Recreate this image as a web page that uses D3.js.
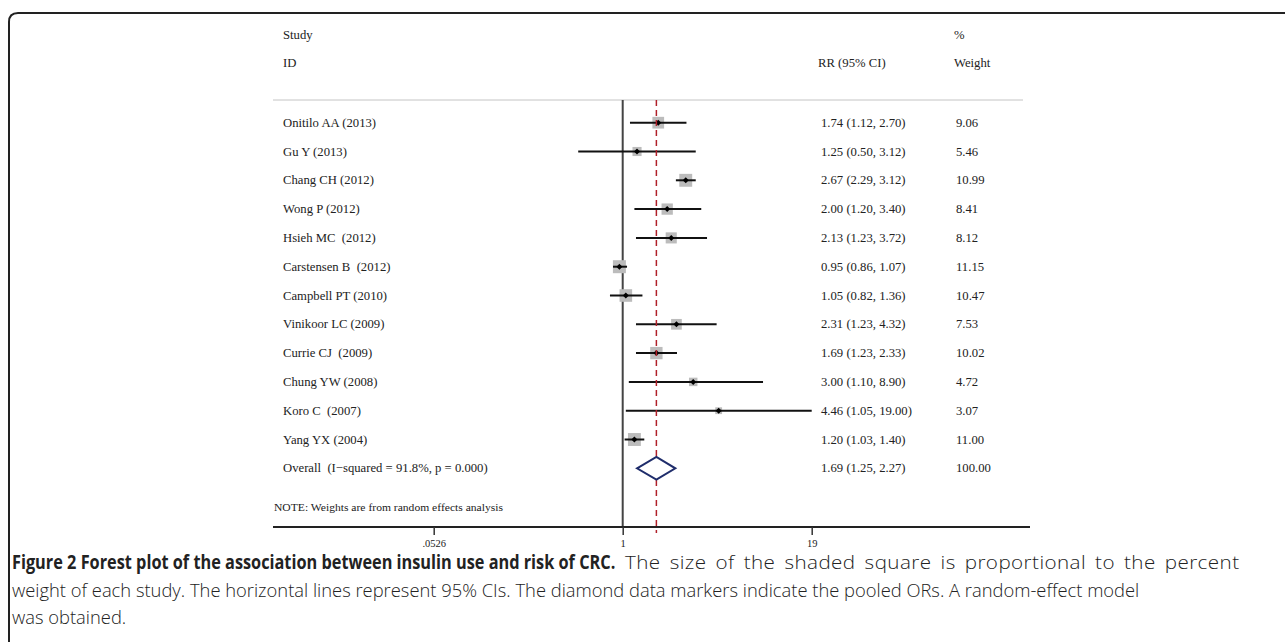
<!DOCTYPE html>
<html><head><meta charset="utf-8">
<script src="https://cdn.jsdelivr.net/npm/d3@7"></script>
<style>html,body{margin:0;padding:0;background:#fff;}svg{display:block;}</style>
</head><body>
<svg id="chart" width="1285" height="642"></svg>
<script>
// ---- data ----
const studies = ["Onitilo AA (2013)","Gu Y (2013)","Chang CH (2012)","Wong P (2012)","Hsieh MC  (2012)","Carstensen B  (2012)","Campbell PT (2010)","Vinikoor LC (2009)","Currie CJ  (2009)","Chung YW (2008)","Koro C  (2007)","Yang YX (2004)"];
const rr      = [1.74, 1.25, 2.67, 2.00, 2.13, 0.95, 1.05, 2.31, 1.69, 3.00, 4.46, 1.20];
const lower   = [1.12, 0.50, 2.29, 1.20, 1.23, 0.86, 0.82, 1.23, 1.23, 1.10, 1.05, 1.03];
const upper   = [2.70, 3.12, 3.12, 3.40, 3.72, 1.07, 1.36, 4.32, 2.33, 8.90, 19.00, 1.40];
const weights = [9.06, 5.46, 10.99, 8.41, 8.12, 11.15, 10.47, 7.53, 10.02, 4.72, 3.07, 11.00];
const overallLabel = "Overall  (I\u2212squared = 91.8%, p = 0.000)";
const overall = {rr: 1.69, lo: 1.25, hi: 2.27, w: 100.00};
const tickValues = [1/19, 1, 19];
const tickLabels = [".0526", "1", "19"];
const noteText = "NOTE: Weights are from random effects analysis";
const captionBold = "Figure 2 Forest plot of the association between insulin use and risk of CRC.";
const captionLines = [
  "The size of the shaded square is proportional to the percent",
  "weight of each study. The horizontal lines represent 95% CIs. The diamond data markers indicate the pooled ORs. A random-effect model",
  "was obtained."
];

// ---- layout ----
const svg = d3.select("#chart");
const serif = "'Liberation Serif','Times New Roman',serif";
const txt = "#222";

// frame (top + left, rounded corner)
svg.append("path")
  .attr("d", "M9,642 L9,22 Q9,13 18,13 L1285,13")
  .attr("fill", "none").attr("stroke", "#222").attr("stroke-width", 2);

const x = d3.scaleLog().domain([1/19, 19]).range([433.7, 811.7]);
const rowY = d3.scaleLinear().domain([0, 12]).range([122.7, 468.3]);
const sq = d3.scaleSqrt().domain([0, 11.15]).range([0, 13]);

const colLabel = 283, colRR = 821, colW = 956;
const fs = 12.7;

// header
const head = svg.append("g").attr("font-family", serif).attr("font-size", fs).attr("fill", txt);
head.append("text").attr("x", colLabel).attr("y", 39).text("Study");
head.append("text").attr("x", colLabel).attr("y", 67).text("ID");
head.append("text").attr("x", 818).attr("y", 67).text("RR (95% CI)");
head.append("text").attr("x", 954).attr("y", 39).text("%");
head.append("text").attr("x", 954).attr("y", 67).text("Weight");

svg.append("line").attr("x1", 273).attr("x2", 1023).attr("y1", 100).attr("y2", 100)
  .attr("stroke", "#c4c4c4").attr("stroke-width", 1);

// null line
svg.append("line").attr("x1", x(1)).attr("x2", x(1)).attr("y1", 100).attr("y2", 527)
  .attr("stroke", "#444").attr("stroke-width", 2);

// axis
const axisY = 527;
svg.append("line").attr("x1", 273).attr("x2", 1030).attr("y1", axisY).attr("y2", axisY)
  .attr("stroke", "#222").attr("stroke-width", 1.8);
const axis = d3.axisBottom(x).tickValues(tickValues).tickSize(8)
  .tickFormat((d, i) => tickLabels[i]);
const ag = svg.append("g").attr("transform", `translate(0,${axisY})`).call(axis);
ag.select(".domain").remove();
ag.selectAll(".tick line").attr("stroke", "#333").attr("stroke-width", 1.5);
ag.selectAll(".tick text").attr("font-family", serif).attr("font-size", 10.5).attr("fill", txt).attr("dy", "0.9em");

// rows
const data = studies.map((s, i) => ({s, rr: rr[i], lo: lower[i], hi: upper[i], w: weights[i], i}));
const rows = svg.append("g");
data.forEach(d => {
  const y = rowY(d.i);
  const side = sq(d.w);
  rows.append("rect").attr("x", x(d.rr) - side/2).attr("y", y - side/2)
    .attr("width", side).attr("height", side).attr("fill", "#bcbcbc");
  rows.append("line").attr("x1", x(d.lo)).attr("x2", x(d.hi)).attr("y1", y).attr("y2", y)
    .attr("stroke", "#111").attr("stroke-width", 2);
  const px = x(d.rr), r = 3;
  rows.append("path").attr("d", `M${px-r},${y} L${px},${y-r} L${px+r},${y} L${px},${y+r} Z`).attr("fill", "#000");
  const t = rows.append("g").attr("font-family", serif).attr("font-size", fs).attr("fill", txt);
  t.append("text").attr("x", colLabel).attr("y", y + 4).attr("xml:space", "preserve").text(d.s);
  t.append("text").attr("x", colRR).attr("y", y + 4).text(`${d.rr.toFixed(2)} (${d.lo.toFixed(2)}, ${d.hi.toFixed(2)})`);
  t.append("text").attr("x", colW).attr("y", y + 4).text(d.w.toFixed(2));
});

// red dashed overall line
svg.append("line").attr("x1", x(overall.rr)).attr("x2", x(overall.rr)).attr("y1", 100).attr("y2", 533)
  .attr("stroke", "#b0202a").attr("stroke-width", 1.5).attr("stroke-dasharray", "6,4");

// overall diamond
const oy = rowY(12);
svg.append("path")
  .attr("d", `M${x(overall.lo)},${oy} L${x(overall.rr)},${oy-11.3} L${x(overall.hi)},${oy} L${x(overall.rr)},${oy+11.3} Z`)
  .attr("fill", "#fff").attr("stroke", "#1f2d6b").attr("stroke-width", 2);
const ot = svg.append("g").attr("font-family", serif).attr("font-size", fs).attr("fill", txt);
ot.append("text").attr("x", colLabel).attr("y", oy + 4).attr("xml:space", "preserve").text(overallLabel);
ot.append("text").attr("x", colRR).attr("y", oy + 4).text(`${overall.rr.toFixed(2)} (${overall.lo.toFixed(2)}, ${overall.hi.toFixed(2)})`);
ot.append("text").attr("x", colW).attr("y", oy + 4).text(overall.w.toFixed(2));

// note
svg.append("text").attr("x", 274).attr("y", 511).attr("font-family", serif).attr("font-size", 10)
  .attr("textLength", 229).attr("lengthAdjust", "spacingAndGlyphs")
  .attr("fill", txt).text(noteText);

// caption (condensed look via horizontal scaling)
const capFont = "'Open Sans','Noto Sans',sans-serif";
const cap = svg.append("g").attr("font-family", capFont).attr("font-size", 19).attr("fill", "#222");
function capLine(str, weight, x0, y0, targetW, extra) {
  const t = cap.append("text").attr("x", 0).attr("y", 0).attr("font-weight", weight).text(str);
  if (extra) t.attr("letter-spacing", extra.ls).attr("word-spacing", extra.ws);
  const w = t.node().getComputedTextLength();
  const sx = targetW ? targetW / w : 1;
  t.attr("transform", `translate(${x0},${y0}) scale(${sx},1)`);
  return sx;
}
capLine(captionBold, "bold", 12, 569, 604);
capLine(captionLines[0], "300", 625, 569, 615, {ls: 0.4, ws: 3});
const s2 = capLine(captionLines[1], "300", 12, 597, 1128);
const t3 = cap.append("text").attr("font-weight", "300").text(captionLines[2])
  .attr("transform", `translate(12,624) scale(${s2},1)`);
</script>
</body></html>
